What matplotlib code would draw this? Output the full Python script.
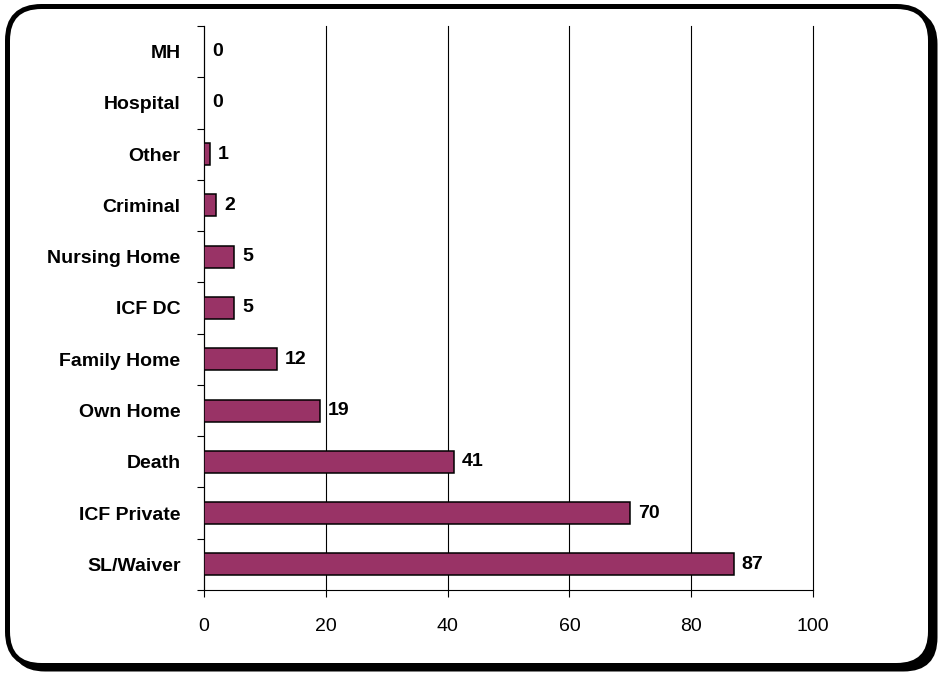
import numpy as np
import matplotlib.pyplot as plt
from matplotlib.patches import FancyBboxPatch
from matplotlib.transforms import IdentityTransform

plt.rcParams['font.family'] = ['Liberation Sans', 'DejaVu Sans']

# data (top to bottom as shown)
categories = ['MH', 'Hospital', 'Other', 'Criminal', 'Nursing Home', 'ICF DC',
              'Family Home', 'Own Home', 'Death', 'ICF Private', 'SL/Waiver']
values = [0, 0, 1, 2, 5, 5, 12, 19, 41, 70, 87]

W, H = 940, 675
fig = plt.figure(figsize=(W / 100, H / 100), dpi=100)


def box(x0, y0, x1, y1, **kw):
    # pixel box, y measured from top of the image
    return FancyBboxPatch((x0, H - y1), x1 - x0, y1 - y0,
                          boxstyle='round,pad=0,rounding_size=34',
                          transform=IdentityTransform(), **kw)


# rounded frame with dark shadow at right/bottom
fig.patches.append(box(11, 10, 937.5, 671.5, facecolor='black', edgecolor='none', zorder=0))
fig.patches.append(box(7.5, 6.5, 930.5, 665.5, facecolor='white', edgecolor='black',
                       linewidth=3.6, zorder=1))

ax = fig.add_axes([204 / W, 1 - 590 / H, 609 / W, 564 / H])
ax.set_facecolor('none')
ax.set_zorder(2)

y = np.arange(len(categories))[::-1]
ax.barh(y, values, height=0.43, color='#993366', edgecolor='black', linewidth=1.1, zorder=3)

for yi, v in zip(y, values):
    ax.text(v + 1.3, yi, str(v), va='center', ha='left', fontsize=14, fontweight='bold', zorder=4)

ax.set_xlim(0, 100)
ax.set_ylim(-0.5, len(categories) - 0.5)
ax.set_xticks([0, 20, 40, 60, 80, 100])
ax.tick_params(axis='x', labelsize=14, length=5, width=0.8, direction='out', pad=15)
ax.set_yticks(y)
ax.set_yticklabels(categories, fontsize=14, fontweight='bold')
ax.tick_params(axis='y', which='major', length=0, pad=17)
ax.set_yticks(np.arange(-0.5, len(categories), 1), minor=True)
ax.tick_params(axis='y', which='minor', length=5, width=0.8, direction='out')

ax.grid(axis='x', color='black', linewidth=0.8, zorder=1)
for gl in ax.get_xgridlines():
    gl.set_clip_on(False)
for s in ['top', 'right']:
    ax.spines[s].set_visible(False)
ax.spines['left'].set_linewidth(0.8)
ax.spines['bottom'].set_linewidth(0.8)

fig.savefig('out.png', dpi=100)
